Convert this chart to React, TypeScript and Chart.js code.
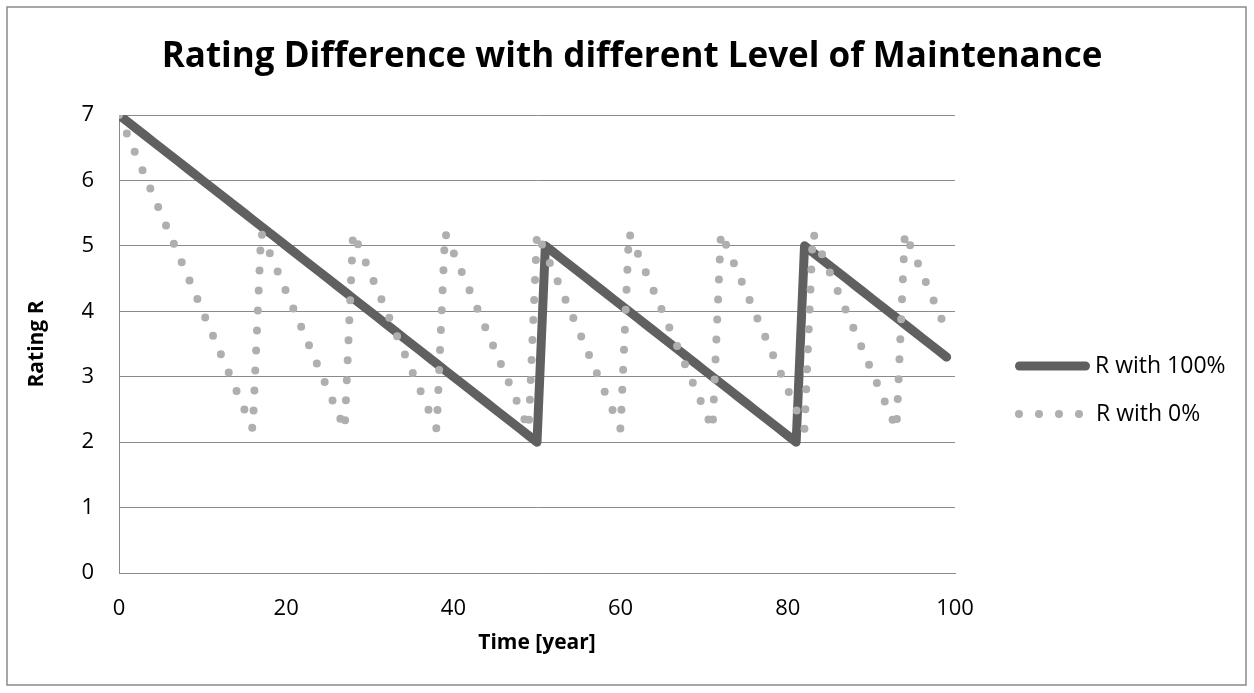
import { useEffect, useRef } from 'react';
import { Chart, registerables } from 'chart.js';

Chart.register(...registerables);

const FONT = '"Open Sans"';

const titleText = 'Rating Difference with different Level of Maintenance';
const xTitle = 'Time [year]';
const yTitle = 'Rating R';
const seriesNames = ['R with 100%', 'R with 0%'];

const years = [
  0, 1, 2, 3, 4, 5, 6, 7, 8, 9,
  10, 11, 12, 13, 14, 15, 16, 17, 18, 19,
  20, 21, 22, 23, 24, 25, 26, 27, 28, 29,
  30, 31, 32, 33, 34, 35, 36, 37, 38, 39,
  40, 41, 42, 43, 44, 45, 46, 47, 48, 49,
  50, 51, 52, 53, 54, 55, 56, 57, 58, 59,
  60, 61, 62, 63, 64, 65, 66, 67, 68, 69,
  70, 71, 72, 73, 74, 75, 76, 77, 78, 79,
  80, 81, 82, 83, 84, 85, 86, 87, 88, 89,
  90, 91, 92, 93, 94, 95, 96, 97, 98, 99,
];

const r100 = [
  7.0, 6.9, 6.8, 6.7, 6.6, 6.5, 6.4, 6.3, 6.2, 6.1,
  6.0, 5.9, 5.8, 5.7, 5.6, 5.5, 5.4, 5.3, 5.2, 5.1,
  5.0, 4.9, 4.8, 4.7, 4.6, 4.5, 4.4, 4.3, 4.2, 4.1,
  4.0, 3.9, 3.8, 3.7, 3.6, 3.5, 3.4, 3.3, 3.2, 3.1,
  3.0, 2.9, 2.8, 2.7, 2.6, 2.5, 2.4, 2.3, 2.2, 2.1,
  2.0, 5.0, 4.9, 4.8, 4.7, 4.6, 4.5, 4.4, 4.3, 4.2,
  4.1, 4.0, 3.9, 3.8, 3.7, 3.6, 3.5, 3.4, 3.3, 3.2,
  3.1, 3.0, 2.9, 2.8, 2.7, 2.6, 2.5, 2.4, 2.3, 2.2,
  2.1, 2.0, 5.0, 4.9, 4.8, 4.7, 4.6, 4.5, 4.4, 4.3,
  4.2, 4.1, 4.0, 3.9, 3.8, 3.7, 3.6, 3.5, 3.4, 3.3,
];

const r0 = [
  7.0, 6.7, 6.4, 6.1, 5.8, 5.5, 5.2, 4.9, 4.6, 4.3,
  4.0, 3.7, 3.4, 3.1, 2.8, 2.5, 2.2, 5.2, 4.9, 4.6,
  4.3, 4.0, 3.7, 3.4, 3.1, 2.8, 2.5, 2.2, 5.2, 4.9,
  4.6, 4.3, 4.0, 3.7, 3.4, 3.1, 2.8, 2.5, 2.2, 5.2,
  4.9, 4.6, 4.3, 4.0, 3.7, 3.4, 3.1, 2.8, 2.5, 2.2,
  5.2, 4.9, 4.6, 4.3, 4.0, 3.7, 3.4, 3.1, 2.8, 2.5,
  2.2, 5.2, 4.9, 4.6, 4.3, 4.0, 3.7, 3.4, 3.1, 2.8,
  2.5, 2.2, 5.2, 4.9, 4.6, 4.3, 4.0, 3.7, 3.4, 3.1,
  2.8, 2.5, 2.2, 5.2, 4.9, 4.6, 4.3, 4.0, 3.7, 3.4,
  3.1, 2.8, 2.5, 2.2, 5.2, 4.9, 4.6, 4.3, 4.0, 3.7,
];

const xMin = 0;
const xMax = 100;
const xStep = 20;
const yMin = 0;
const yMax = 7;
const yStep = 1;

const SOLID_COLOR = '#606060';
const DOT_COLOR = '#afafaf';
const GRID_COLOR = '#8a8a8a';

export default function App() {
  const ref = useRef<HTMLCanvasElement>(null);

  useEffect(() => {
    const canvas = ref.current;
    if (!canvas) return;

    const framePlugin = {
      id: 'frameTitleLegend',
      beforeDraw(chart: any) {
        const ctx = chart.ctx;
        ctx.save();
        ctx.fillStyle = '#ffffff';
        ctx.fillRect(0, 0, chart.width, chart.height);
        ctx.strokeStyle = GRID_COLOR;
        ctx.lineWidth = 1.5;
        ctx.strokeRect(7, 7, chart.width - 15, chart.height - 15);
        ctx.restore();
      },
      afterDraw(chart: any) {
        const ctx = chart.ctx;
        ctx.save();
        // title
        ctx.fillStyle = '#000000';
        ctx.font = `bold 35px ${FONT}`;
        ctx.textAlign = 'center';
        ctx.textBaseline = 'middle';
        ctx.fillText(titleText, 632, 57);
        // solid sample
        ctx.strokeStyle = SOLID_COLOR;
        ctx.lineWidth = 9;
        ctx.lineCap = 'round';
        ctx.setLineDash([]);
        ctx.beginPath();
        ctx.moveTo(1019.5, 366);
        ctx.lineTo(1085.5, 366);
        ctx.stroke();
        // dotted sample
        ctx.strokeStyle = DOT_COLOR;
        ctx.lineWidth = 8;
        ctx.setLineDash([0, 20]);
        ctx.beginPath();
        ctx.moveTo(1019, 414);
        ctx.lineTo(1081, 414);
        ctx.stroke();
        ctx.setLineDash([]);
        ctx.fillStyle = '#000000';
        ctx.font = `23px ${FONT}`;
        ctx.textBaseline = 'middle';
        ctx.textAlign = 'left';
        ctx.fillText(seriesNames[0], 1095, 366);
        ctx.fillText(seriesNames[1], 1096, 414);
        ctx.restore();
      },
    };

    const chart = new Chart(canvas, {
      type: 'line',
      data: {
        datasets: [
          {
            label: seriesNames[0],
            data: years.map((x, i) => ({ x, y: r100[i] })),
            borderColor: SOLID_COLOR,
            backgroundColor: SOLID_COLOR,
            borderWidth: 9,
            borderCapStyle: 'round',
            borderJoinStyle: 'round',
            pointRadius: 0,
            tension: 0,
            order: 1,
          },
          {
            label: seriesNames[1],
            data: years.map((x, i) => ({ x, y: r0[i] })),
            borderColor: DOT_COLOR,
            backgroundColor: DOT_COLOR,
            borderWidth: 8,
            borderDash: [0, 20],
            borderCapStyle: 'round',
            borderJoinStyle: 'round',
            pointRadius: 0,
            tension: 0,
            order: 0,
          },
        ],
      },
      options: {
        animation: false,
        responsive: false,
        devicePixelRatio: 1,
        layout: { padding: { top: 115, left: 19, right: 299, bottom: 20 } },
        plugins: {
          legend: { display: false },
          tooltip: { enabled: false },
          title: { display: false },
        },
        scales: {
          x: {
            type: 'linear',
            min: xMin,
            max: xMax,
            grid: { display: false, drawTicks: false },
            border: { display: true, color: GRID_COLOR, width: 1 },
            ticks: {
              stepSize: xStep,
              color: '#000000',
              font: { family: FONT, size: 22 },
              padding: 23,
              maxRotation: 0,
            },
            title: {
              display: true,
              text: xTitle,
              color: '#000000',
              font: { family: FONT, size: 21, weight: 'bold' },
              padding: { top: 0, bottom: 17 },
            },
            afterFit(scale: any) {
              scale.height = 100;
            },
          },
          y: {
            type: 'linear',
            min: yMin,
            max: yMax,
            grid: { display: true, color: GRID_COLOR, lineWidth: 1, drawTicks: false },
            border: { display: true, color: GRID_COLOR, width: 1 },
            ticks: {
              stepSize: yStep,
              color: '#000000',
              font: { family: FONT, size: 22 },
              padding: 25,
            },
            title: {
              display: true,
              text: yTitle,
              color: '#000000',
              font: { family: FONT, size: 21, weight: 'bold' },
              padding: { top: 5, bottom: 0 },
            },
            afterFit(scale: any) {
              scale.width = 100;
            },
          },
        },
      } as any,
      plugins: [framePlugin],
    });

    return () => chart.destroy();
  }, []);

  return (
    <div style={{ position: 'absolute', left: 0, top: 0, width: 1254, height: 693 }}>
      <canvas ref={ref} width={1254} height={693} style={{ display: 'block' }} />
    </div>
  );
}
